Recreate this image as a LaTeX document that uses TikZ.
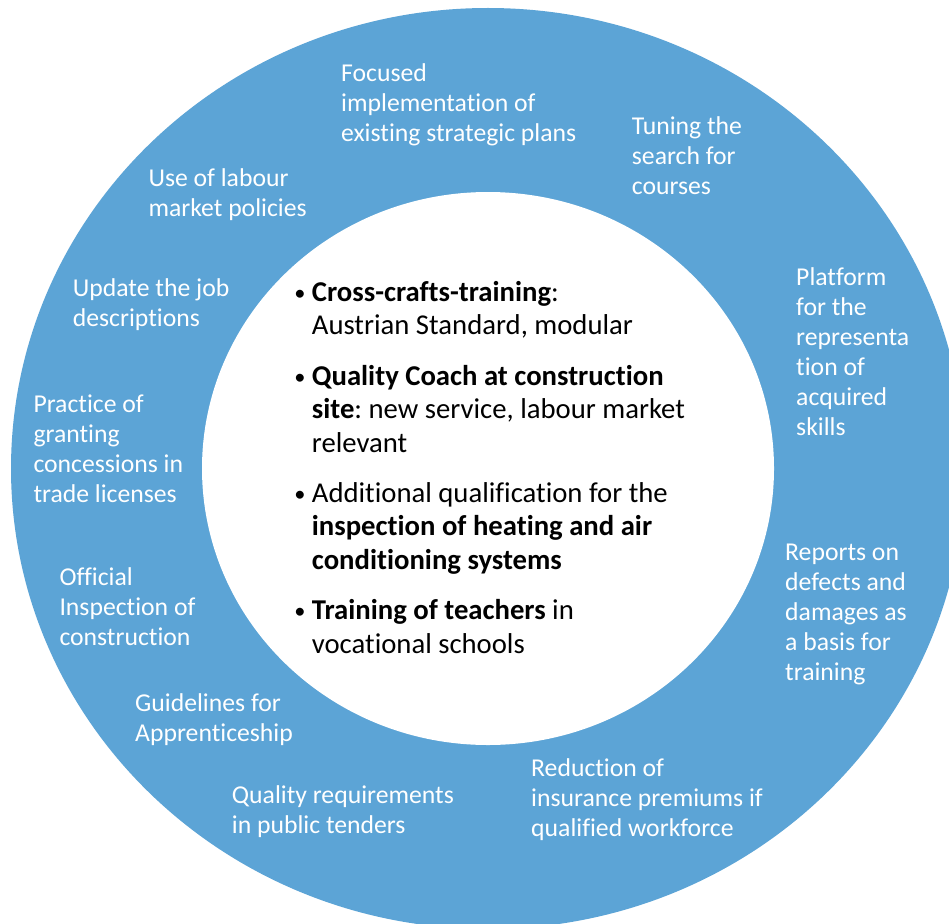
\documentclass[tikz,border=0pt]{standalone}
\usepackage{fontspec}
\setmainfont{Carlito}[Ligatures=NoCommon]
\frenchspacing
\definecolor{ringblue}{RGB}{92,164,214}
\tikzset{
  ringtxt/.style={anchor=base west, align=left, text=white, inner sep=0pt,
    font=\fontsize{25.7}{30}\selectfont},
  centertxt/.style={anchor=base west, align=left, text=black, inner sep=0pt,
    font=\fontsize{28.7}{33.2}\selectfont}
}
\newcommand{\bul}{\makebox[0pt][r]{\raisebox{1.6pt}{\scalebox{0.78}{\textbullet}}\hspace{6.5pt}}}
\begin{document}
\begin{tikzpicture}[x=1pt,y=-1pt]
\useasboundingbox (0,0) rectangle (949,923);
\fill[white] (0,0) rectangle (949,923);
\begin{scope}
  \clip (0,0) rectangle (949,923);
  \fill[ringblue] (488,468.5) ellipse [x radius=477pt, y radius=460.5pt];
  \fill[white] (488,468.5) ellipse [x radius=286pt, y radius=276.5pt];
\end{scope}

% centre text (base anchor = baseline of the last line)
\node[centertxt] (centre) at (311.7,653) {%
  \bul\textbf{Cross-crafts-training}:\\
  Austrian Standard, modular\\[17.5pt]
  \bul\textbf{Quality Coach at construction}\\
  \textbf{site}: new service, labour market\\
  relevant\\[17.5pt]
  \bul Additional qualification for the\\
  \textbf{inspection of heating and air}\\
  \textbf{conditioning systems}\\[17.5pt]
  \bul\textbf{Training of teachers} in\\
  vocational schools};

% ring labels (base anchor = baseline of the last line)
\node[ringtxt] (focused) at (341,141.7) {Focused\\implementation of\\existing strategic plans};
\node[ringtxt] (tuning) at (631.7,194) {Tuning the\\search for\\courses};
\node[ringtxt] (labour) at (148.3,216.7) {Use of labour\\market policies};
\node[ringtxt] (platform) at (796,435) {Platform\\for the\\representa\\tion of\\acquired\\skills};
\node[ringtxt] (update) at (72.7,326.7) {Update the job\\descriptions};
\node[ringtxt] (practice) at (33.3,502.7) {Practice of\\granting\\concessions in\\trade licenses};
\node[ringtxt] (reports) at (785,680.7) {Reports on\\defects and\\damages as\\a basis for\\training};
\node[ringtxt] (official) at (59.3,645) {Official\\Inspection of\\construction};
\node[ringtxt] (guidelines) at (135,741.7) {Guidelines for\\Apprenticeship};
\node[ringtxt] (reduction) at (531,836.7) {Reduction of\\insurance premiums if\\qualified workforce};
\node[ringtxt] (quality) at (231.7,833.5) {Quality requirements\\in public tenders};
\end{tikzpicture}
\end{document}
